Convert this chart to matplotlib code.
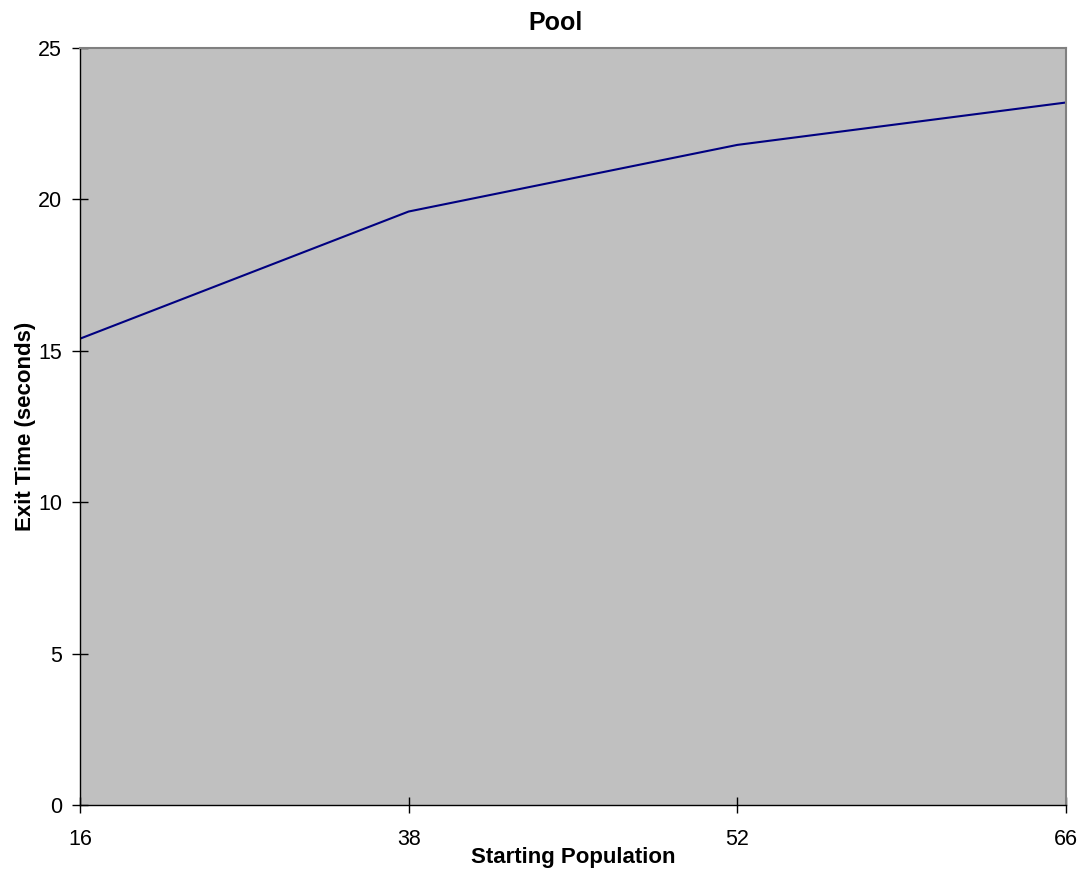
import matplotlib
matplotlib.use("Agg")
import matplotlib.pyplot as plt

categories = ["16", "38", "52", "66"]
exit_time = [15.4, 19.6, 21.8, 23.2]
y_ticks = [0, 5, 10, 15, 20, 25]

plt.rcParams['font.family'] = ['Liberation Sans', 'DejaVu Sans']

fig = plt.figure(figsize=(10.88, 8.75), dpi=100)
ax = fig.add_axes([80/1088, 70/875, (1066-80)/1088, (805-48)/875])
ax.set_facecolor('#c0c0c0')
x = list(range(len(categories)))
ax.plot(x, exit_time, color='#000080', lw=1.5)
ax.set_xlim(0, len(categories)-1)
ax.set_ylim(0, 25)
ax.set_xticks(x)
ax.set_xticklabels(categories, fontsize=15.5)
ax.set_yticks(y_ticks)
ax.set_yticklabels([str(t) for t in y_ticks], fontsize=15.5)
ax.tick_params(axis='both', direction='inout', length=12, width=1, colors='black', pad=7)
ax.tick_params(axis='x', pad=11)
for s in ['top', 'right']:
    ax.spines[s].set_color('#808080')
    ax.spines[s].set_linewidth(1.5)
for s in ['left', 'bottom']:
    ax.spines[s].set_color('black')
    ax.spines[s].set_linewidth(1)
fig.text(556/1088, 1 - 23/875, 'Pool', fontsize=18, fontweight='bold', ha='center', va='center')
ax.set_xlabel('Starting Population', fontsize=16, fontweight='bold', labelpad=-2)
ax.set_ylabel('Exit Time (seconds)', fontsize=16, fontweight='bold', labelpad=1)
fig.savefig('out.png', dpi=100)
